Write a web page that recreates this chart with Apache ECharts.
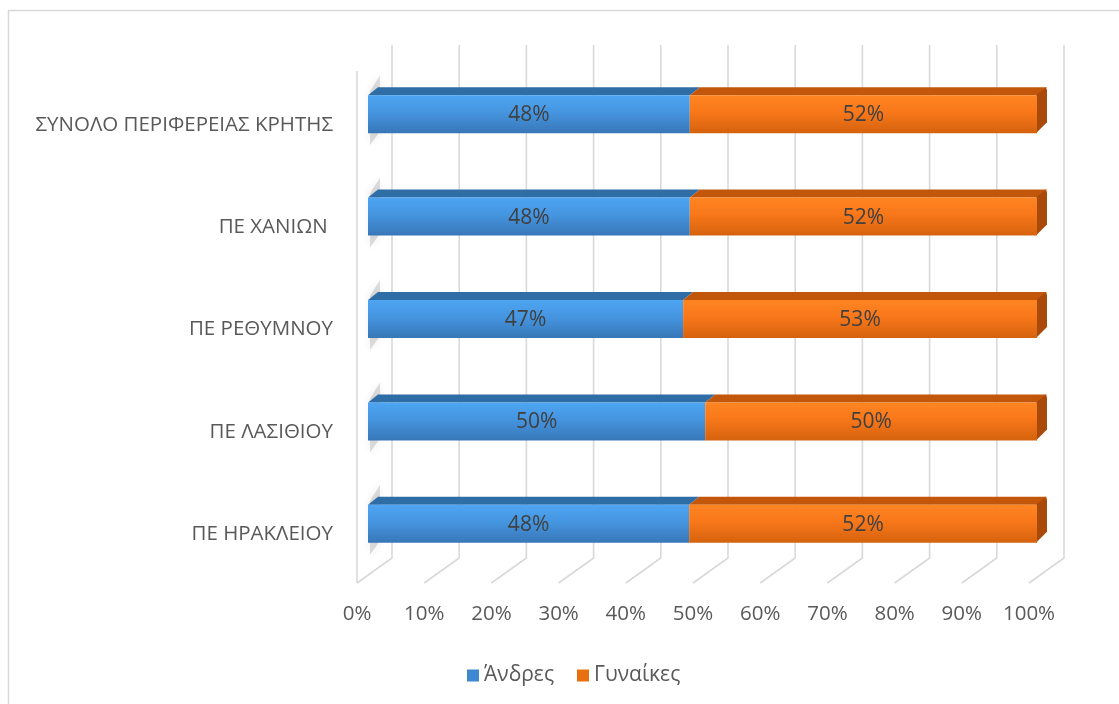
<!DOCTYPE html>
<html>
<head>
<meta charset="utf-8">
<script src="https://cdn.jsdelivr.net/npm/echarts@6/dist/echarts.min.js"></script>
<style>
html,body{margin:0;padding:0;background:#fff;}
#chart{width:1119px;height:704px;}
</style>
</head>
<body>
<div id="chart"></div>
<script>
// Data (bottom to top order, as ECharts category axis draws from bottom)
const categories = ['ΠΕ ΗΡΑΚΛΕΙΟΥ', 'ΠΕ ΛΑΣΙΘΙΟΥ', 'ΠΕ ΡΕΘΥΜΝΟΥ', 'ΠΕ ΧΑΝΙΩΝ ', 'ΣΥΝΟΛΟ ΠΕΡΙΦΕΡΕΙΑΣ ΚΡΗΤΗΣ'];
const andres = [48.0, 50.4, 47.1, 48.1, 48.1];
const gynaikes = [52.0, 49.6, 52.9, 51.9, 51.9];
const xTicks = [0, 10, 20, 30, 40, 50, 60, 70, 80, 90, 100];
const seriesNames = ['Άνδρες', 'Γυναίκες'];

const FONT = '"Open Sans", "Noto Sans", sans-serif';
const TXT = '#595959';

const chart = echarts.init(document.getElementById('chart'), null, {renderer: 'canvas'});

const blue = {
  front: [[0, '#4ea5f2'], [0.45, '#4595e0'], [1, '#3877b8']],
  top: '#2f6da6',
  side: '#28619a',
  legend: '#3d88d0'
};
const orange = {
  front: [[0, '#ff8522'], [0.45, '#f8771a'], [1, '#d5620d']],
  top: '#c2570b',
  side: '#a9490a',
  legend: '#e8700f'
};

function makeBar(col, isLast) {
  return function (params, api) {
    const i = api.value(0), s = api.value(1), e = api.value(2), v = api.value(3);
    const a = api.coord([s, i]);
    const b = api.coord([e, i]);
    const h = 38, dx = 10, dy = 8;
    const yT = a[1] - h / 2, yB = a[1] + h / 2;
    const children = [];
    if (!isLast) {
      // soft shadow on the left wall
      children.push({
        type: 'polygon',
        shape: {points: [[a[0] + 2, yT - 4], [a[0] + dx + 2, yT - dy - 12], [a[0] + dx + 2, yB - dy + 6], [a[0] + 2, yB + 12]]},
        style: {fill: 'rgba(140,140,140,0.28)', shadowBlur: 8, shadowColor: 'rgba(0,0,0,0.3)'},
        z2: 0
      });
    }
    children.push({
      type: 'polygon',
      shape: {points: [[a[0], yT], [a[0] + dx, yT - dy], [b[0] + dx, yT - dy], [b[0], yT]]},
      style: {fill: col.top},
      z2: 1
    });
    if (isLast) {
      children.push({
        type: 'polygon',
        shape: {points: [[b[0] - 1, yT], [b[0] + dx - 1, yT - dy], [b[0] + dx, yT - dy + 3], [b[0] + dx, yB - dy - 3], [b[0] + dx - 3, yB - dy], [b[0] - 1, yB]]},
        style: {fill: col.side},
        z2: 1
      });
    }
    children.push({
      type: 'rect',
      shape: {x: a[0], y: yT, width: b[0] - a[0], height: h},
      style: {fill: new echarts.graphic.LinearGradient(0, 0, 0, 1, col.front.map(c => ({offset: c[0], color: c[1]})))},
      z2: 2
    });
    children.push({
      type: 'text',
      style: {
        text: Math.round(v) + '%',
        x: (a[0] + b[0]) / 2,
        y: a[1] + 1,
        align: 'center',
        verticalAlign: 'middle',
        fill: '#404040',
        fontSize: 21,
        fontFamily: FONT
      },
      z2: 3
    });
    return {type: 'group', children: children};
  };
}

function wallRender(params, api) {
  const v = api.value(0);
  const p = api.coord([v, 0]);
  const children = [{
    type: 'polyline',
    shape: {points: [[p[0], p[1]], [p[0] + 35, p[1] - 25], [p[0] + 35, 45]]},
    style: {stroke: '#d9d9d9', lineWidth: 1.6, fill: null}
  }];
  if (v === 0) {
    children.push({
      type: 'line',
      shape: {x1: p[0], y1: p[1], x2: p[0], y2: 71},
      style: {stroke: '#d9d9d9', lineWidth: 1.6}
    });
  }
  return {type: 'group', children: children};
}

const menData = categories.map((c, i) => [i, 0, andres[i], andres[i]]);
const womenData = categories.map((c, i) => [i, andres[i], andres[i] + gynaikes[i], gynaikes[i]]);

const option = {
  animation: false,
  backgroundColor: '#ffffff',
  graphic: [{
    type: 'rect',
    shape: {x: 8.5, y: 10.5, width: 1300, height: 900},
    style: {fill: null, stroke: '#d9d9d9', lineWidth: 1.5},
    silent: true
  }],
  legend: {
    data: seriesNames,
    left: 462,
    top: 660,
    icon: 'rect',
    itemWidth: 12,
    itemHeight: 12,
    itemGap: 23,
    textStyle: {fontSize: 21, color: TXT, fontFamily: FONT}
  },
  grid: [
    {left: 368, right: 82, top: 63, bottom: 129, containLabel: false},
    {left: 357, right: 90, top: 45, bottom: 121, containLabel: false}
  ],
  xAxis: [
    {gridIndex: 0, type: 'value', min: 0, max: 100, show: false},
    {
      gridIndex: 1, type: 'value', min: 0, max: 100, interval: 10,
      axisLine: {show: false}, axisTick: {show: false}, splitLine: {show: false},
      axisLabel: {formatter: '{value}%', fontSize: 20.5, color: TXT, fontFamily: FONT, margin: 21}
    }
  ],
  yAxis: [
    {
      gridIndex: 0, type: 'category', data: categories,
      axisLine: {show: false}, axisTick: {show: false}, splitLine: {show: false},
      axisLabel: {fontSize: 20.5, color: TXT, fontFamily: FONT, margin: 35, verticalAlign: 'top'}
    },
    {gridIndex: 1, type: 'value', min: 0, max: 1, show: false}
  ],
  series: [
    {
      type: 'custom',
      name: 'walls',
      xAxisIndex: 1, yAxisIndex: 1,
      renderItem: wallRender,
      data: xTicks.map(v => [v]),
      encode: {x: 0},
      silent: true,
      z: 1
    },
    {
      type: 'custom',
      name: seriesNames[0],
      xAxisIndex: 0, yAxisIndex: 0,
      renderItem: makeBar(blue, false),
      data: menData,
      encode: {x: [1, 2], y: 0},
      itemStyle: {color: blue.legend},
      z: 3
    },
    {
      type: 'custom',
      name: seriesNames[1],
      xAxisIndex: 0, yAxisIndex: 0,
      renderItem: makeBar(orange, true),
      data: womenData,
      encode: {x: [1, 2], y: 0},
      itemStyle: {color: orange.legend},
      z: 4
    }
  ]
};
chart.setOption(option);
</script>
</body>
</html>
